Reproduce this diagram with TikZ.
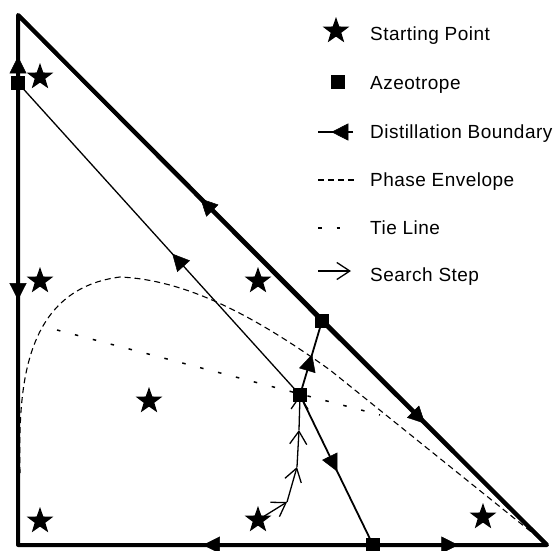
\documentclass[tikz,border=0pt]{standalone}
\usepackage{fontspec}
\setmainfont[LetterSpace=2.5]{Liberation Sans}
\usetikzlibrary{shapes.geometric,arrows.meta,decorations.markings}
\begin{document}
\begin{tikzpicture}[x=1pt,y=-1pt,
  bnd/.style={line width=4pt,line join=round},
  mid/.style={line width=1.8pt},
  thin/.style={line width=1.3pt},
  marr/.style={postaction={decorate,decoration={markings,
     mark=at position #1 with {\arrow{Triangle[length=17pt,width=17pt,line width=0.5pt]}}}}},
  azeo/.style={rectangle,fill=black,minimum size=14pt,inner sep=0pt},
  startpt/.style={star,star points=5,star point ratio=2.5,fill=black,minimum size=28pt,inner sep=0pt},
  phase/.style={line width=1.1pt,dash pattern=on 6pt off 4pt},
  tie/.style={line width=1.5pt,dash pattern=on 3.5pt off 15pt},
  search/.style={line width=1.3pt,-{Straight Barb[length=13pt,width=17pt,line width=1.3pt]}},
  lbl/.style={anchor=base west,inner sep=0pt,font=\fontsize{19}{22}\selectfont}
]
\useasboundingbox (0,0) rectangle (555,550);
% points
\coordinate (T) at (18,15);
\coordinate (BL) at (18,545);
\coordinate (BR) at (547,545);
\coordinate (A1) at (18,83);
\coordinate (A2) at (322,321);
\coordinate (A3) at (300,395);
\coordinate (A4) at (373,545);
\coordinate (S1) at (40,77);
\coordinate (S2) at (40,281);
\coordinate (S3) at (149,401);
\coordinate (S4) at (258,281);
\coordinate (S5) at (40,521);
\coordinate (S6) at (258,520);
\coordinate (S7) at (483,517);
\coordinate (P1) at (287,502);
\coordinate (P2) at (297,467);
\coordinate (P3) at (299,430);

% phase envelope
\draw[phase] (20,473) .. controls (19,400) and (18,290) .. (120,277)
  .. controls (190,280) and (260,320) .. (330,370) -- (545,543);
% tie line
\draw[tie] (57,330) -- (380,415);

% outer triangle
\draw[bnd] (T) -- (BL) -- (BR) -- cycle;
\draw[bnd,marr=0.39] (A1) -- (T);
\draw[bnd,marr=0.47] (A1) -- (BL);
\draw[bnd,marr=0.40] (A2) -- (T);
\draw[bnd,marr=0.458] (A2) -- (BR);
\draw[bnd,marr=0.479] (A4) -- (BL);
\draw[bnd,marr=0.49] (A4) -- (BR);

% internal boundaries
\draw[thin,marr=0.453] (A3) -- (A1);
\draw[mid,marr=0.55] (A3) -- (A2);
\draw[mid,marr=0.51] (A3) -- (A4);

% search steps
\draw[search] (S6) -- (P1);
\draw[search] (P1) -- (P2);
\draw[search] (P2) -- (P3);
\draw[search] (P3) -- (A3);

% azeotropes
\node[azeo] (a1) at (A1) {};
\node[azeo] (a2) at (A2) {};
\node[azeo] (a3) at (A3) {};
\node[azeo] (a4) at (A4) {};
% starting points
\node[startpt] (s1) at (S1) {};
\node[startpt] (s2) at (S2) {};
\node[startpt] (s3) at (S3) {};
\node[startpt] (s4) at (S4) {};
\node[startpt] (s5) at (S5) {};
\node[startpt] (s6) at (S6) {};
\node[startpt] (s7) at (S7) {};

% legend
\node[startpt] (ls) at (336,31) {};
\node[lbl] (lt1) at (370,40) {Starting Point};
\node[azeo] (la) at (338,82) {};
\node[lbl] (lt2) at (370,89) {Azeotrope};
\coordinate (lb1) at (353,132);
\coordinate (lb2) at (318,132);
\draw[line width=2pt,marr=0.62] (lb1) -- (lb2);
\node[lbl] (lt3) at (370,138) {Distillation Boundary};
\coordinate (lp1) at (318,180);
\coordinate (lp2) at (354,180);
\draw[phase] (lp1) -- (lp2);
\node[lbl] (lt4) at (370,186) {Phase Envelope};
\coordinate (ld1) at (318,228);
\coordinate (ld2) at (342,228);
\draw[tie] (ld1) -- (ld2);
\node[lbl] (lt5) at (370,234) {Tie Line};
\coordinate (lq1) at (318,271);
\coordinate (lq2) at (351,271);
\draw[search] (lq1) -- (lq2);
\node[lbl] (lt6) at (370,281) {Search Step};
\end{tikzpicture}
\end{document}
